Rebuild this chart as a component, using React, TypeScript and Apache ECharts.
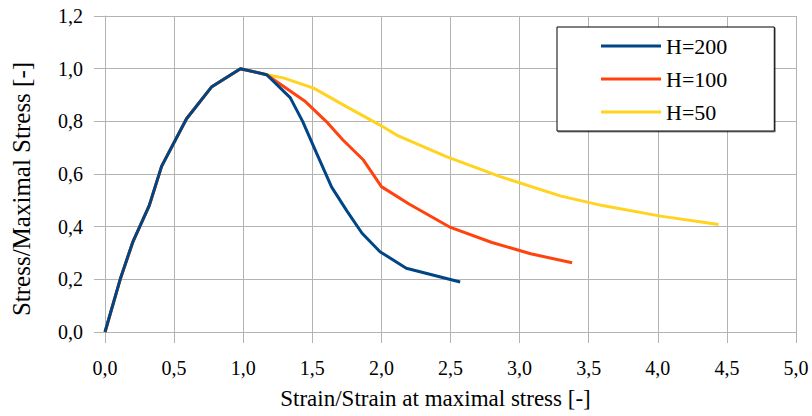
import React, { useEffect, useRef } from "react";
import * as echarts from "echarts";

const seriesNames = ["H=200", "H=100", "H=50"];
const seriesColors = ["#004586", "#ff420e", "#ffd320"];

const h200X = [0, 0.11, 0.2, 0.32, 0.41, 0.59, 0.77, 0.98, 1.17, 1.34, 1.43, 1.53, 1.64, 1.75, 1.86, 1.99, 2.18, 2.57];
const h200Y = [0, 0.2, 0.34, 0.48, 0.63, 0.81, 0.93, 1.0, 0.977, 0.89, 0.8, 0.68, 0.55, 0.46, 0.375, 0.305, 0.242, 0.19];

const h100X = [0, 0.11, 0.2, 0.32, 0.41, 0.59, 0.77, 0.98, 1.17, 1.45, 1.6, 1.72, 1.87, 2.0, 2.2, 2.5, 2.8, 3.08, 3.38];
const h100Y = [0, 0.2, 0.34, 0.48, 0.63, 0.81, 0.93, 1.0, 0.977, 0.875, 0.8, 0.73, 0.653, 0.552, 0.486, 0.397, 0.34, 0.297, 0.263];

const h50X = [0, 0.11, 0.2, 0.32, 0.41, 0.59, 0.77, 0.98, 1.17, 1.29, 1.51, 1.75, 2.0, 2.11, 2.47, 2.86, 3.3, 3.6, 4.02, 4.44];
const h50Y = [0, 0.2, 0.34, 0.48, 0.63, 0.81, 0.93, 1.0, 0.977, 0.965, 0.926, 0.855, 0.783, 0.748, 0.666, 0.59, 0.516, 0.48, 0.44, 0.408];

const xTitle = "Strain/Strain at maximal stress [-]";
const yTitle = "Stress/Maximal Stress [-]";

const FONT = "Liberation Serif";
const GRID = "#b3b3b3";

const zip = (xs: number[], ys: number[]) => xs.map((x, i) => [x, ys[i]]);
const fmt = (v: number) => v.toFixed(1).replace(".", ",");

export default function App() {
  const ref = useRef<HTMLDivElement>(null);
  useEffect(() => {
    if (!ref.current) return;
    const chart = echarts.init(ref.current, undefined, { renderer: "svg" });
    const datasets = [zip(h200X, h200Y), zip(h100X, h100Y), zip(h50X, h50Y)];
    const order = [2, 1, 0];
    chart.setOption({
      animation: false,
      backgroundColor: "#ffffff",
      textStyle: { fontFamily: FONT, color: "#000" },
      grid: { left: 105, right: 16, top: 16, bottom: 84, containLabel: false },
      xAxis: {
        type: "value",
        min: 0,
        max: 5,
        interval: 0.5,
        name: xTitle,
        nameLocation: "middle",
        nameGap: 55,
        nameTextStyle: { fontFamily: FONT, fontSize: 23, color: "#000", padding: [0, 30, 0, 0] },
        axisLine: { show: true, lineStyle: { color: GRID, width: 1 } },
        axisTick: { show: true, length: 11, lineStyle: { color: GRID } },
        axisLabel: { formatter: fmt, margin: 26, fontFamily: FONT, fontSize: 20, color: "#000" },
        splitLine: { show: true, lineStyle: { color: GRID, width: 1 } },
      },
      yAxis: {
        type: "value",
        min: 0,
        max: 1.2,
        interval: 0.2,
        name: yTitle,
        nameLocation: "middle",
        nameGap: 71,
        nameTextStyle: { fontFamily: FONT, fontSize: 25, color: "#000", padding: [0, 30, 0, 0] },
        axisLine: { show: true, lineStyle: { color: GRID, width: 1 } },
        axisTick: { show: true, length: 11, lineStyle: { color: GRID } },
        axisLabel: { formatter: fmt, margin: 22, fontFamily: FONT, fontSize: 20, color: "#000" },
        splitLine: { show: true, lineStyle: { color: GRID, width: 1 } },
      },
      legend: {
        orient: "vertical",
        left: 557,
        top: 27,
        data: seriesNames,
        icon: "rect",
        backgroundColor: "#ffffff",
        borderColor: "#000000",
        borderWidth: 1,
        shadowColor: "rgba(0,0,0,0.45)",
        shadowOffsetX: 1,
        shadowOffsetY: 1,
        shadowBlur: 0,
        padding: [8, 47, 8, 44],
        itemGap: 11,
        itemWidth: 60,
        itemHeight: 3,
        textStyle: { fontFamily: FONT, fontSize: 22, color: "#000", lineHeight: 22 },
      },
      series: order.map((i) => ({
        name: seriesNames[i],
        type: "line",
        data: datasets[i],
        symbol: "none",
        showSymbol: false,
        color: seriesColors[i],
        itemStyle: { color: seriesColors[i] },
        lineStyle: { color: seriesColors[i], width: 3 },
      })),
    });
    return () => chart.dispose();
  }, []);
  return (
    <div
      ref={ref}
      style={{ position: "fixed", left: 0, top: 0, width: 812, height: 416 }}
    />
  );
}
